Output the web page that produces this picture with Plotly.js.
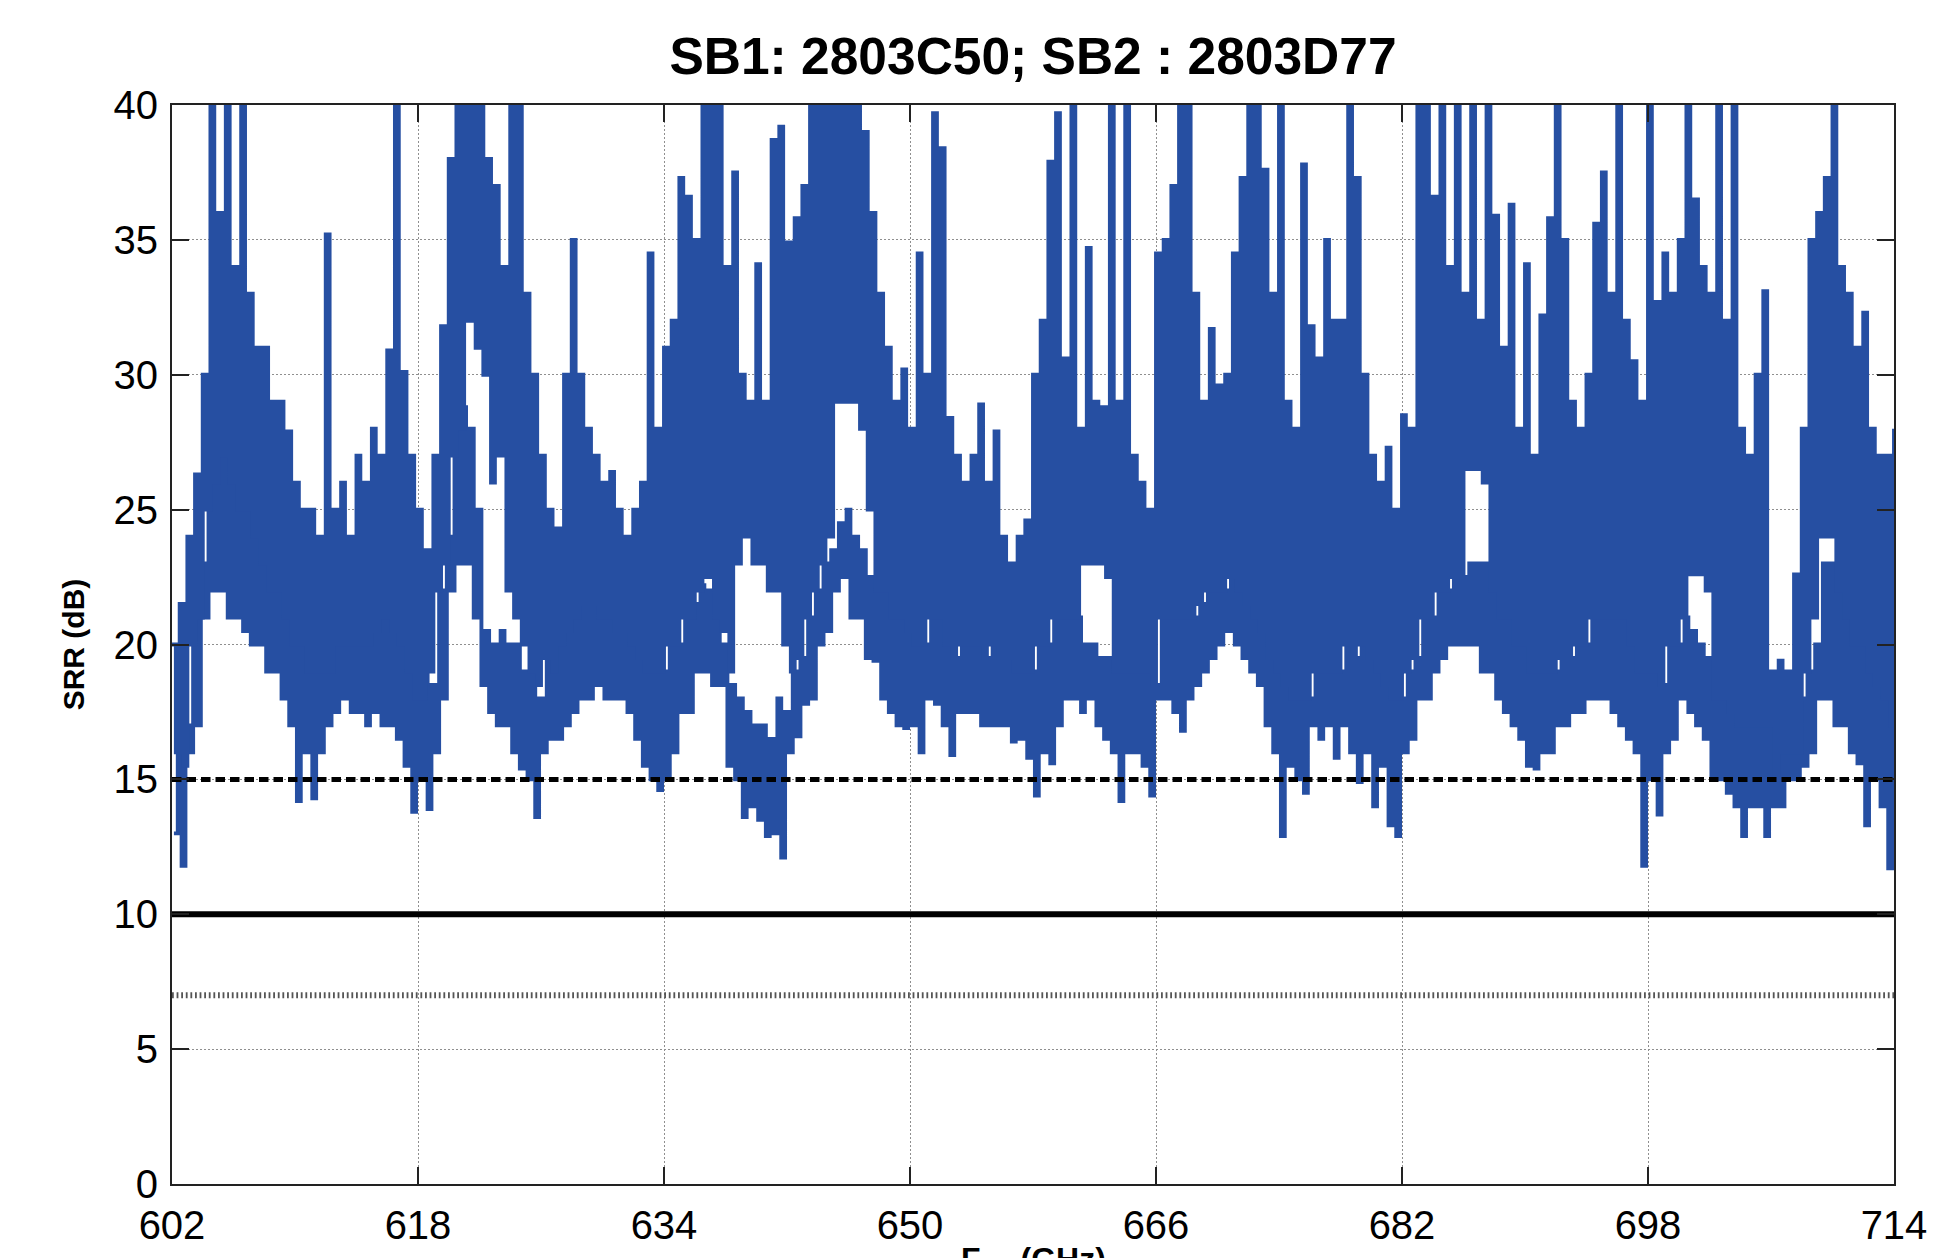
<!DOCTYPE html>
<html>
<head>
<meta charset="utf-8">
<script src="https://cdn.plot.ly/plotly-3.0.1.min.js"></script>
<style>html,body{margin:0;padding:0;background:#fff;}#chart{width:1936px;height:1258px;}</style>
</head>
<body>
<div id="chart"></div>
<script>
// Frequency grid (GHz): samples every 0.25 GHz from 602 to 714
const FREQ_START = 602;
const FREQ_STEP = 0.25;
const CURVE_B_OFFSET = 0.125;

// SRR (dB), first sweep (upper curve) – 4 samples per GHz
const srrSweep1 = [
  20,16,21.5,15.5,  24,20,26.3,21,  30,25,41,26,  36,27,41,26,  34,25,41,25,   // 602-606
  33,24,31,23,  31,22,29,22,  29,21,27.9,20,  26,20,25,19,  25,19,24,19,       // 607-611
  35.2,19,25,20,  26,20,24,20,  27,20,26,20,  28,20.5,27,21,  30.9,20.5,41,20, // 612-616
  30.1,19,27,18,  25,18,23.5,19,  27,22,31.8,23,  38,27,41,28,  41,32,41,31,   // 617-621
  41,30,38,26,  37,27,34,22,  41,21,41,20,  33,19,30,18.5,  27,19.5,25,19,     // 622-626
  24.3,20,30,20.5,  35,21,30,21.5,  28,21.5,27,21,  26,21,26.4,20.5,  25,20.5,24,20, // 627-631
  25,19.5,26,19,  34.5,19,28,19,  31,20,32,20,  37.3,21,36.6,21,  35,22,41,22.5, // 632-636
  41,21,41,20.5,  34,19,37.5,23,  30,24,29,23,  34.1,23,29,22,  38.7,22,39.2,20, // 637-641
  34.9,19,35.8,19.5,  37,21,41,22,  41,23,41,24,  41,29,41,29,  41,29,41,28,   // 642-646
  39,25,36,22,  33,22,31,21,  29,21,30.2,20.5,  28,20,34.5,20,  30,21,39.7,21, // 647-651
  38.4,20,28.4,19.5,  27,20,26,20,  27,20,28.9,19.5,  26,20,27.9,19.5,  24,19.5,23,19, // 652-656
  24,19,24.6,19,  30,20,32,20,  37.9,21,39.7,21,  30.6,21,41,21,  28,23,34.7,23, // 657-661
  29,23,28.8,22.5,  41,19,29,19,  41,19,27,19,  26,19,25,18.5,  34.5,21,35,21, // 662-666
  37,21,41,21,  41,21,33,21.5,  29,22,31.7,22,  29.6,22,30,22.5,  34.5,22,37.3,21.5, // 667-671
  41,21,41,20.5,  37.6,19.5,33,19,  41,18.5,29,18,  28,18,37.8,18,  31.8,19,30.6,19, // 672-676
  35,19,32,19,  32,20,41,19.5,  37.3,20,30,19.5,  27,19,26,18.5,  27.3,18,25,18, // 677-681
  28.5,19,28,19.5,  41,21,41,21,  36.6,22,41,22,  34,22.5,41,22.5,  33,26.5,41,26.5, // 682-686
  32,26,41,22,  35.9,21,31,21,  36.3,20,28,20,  34.1,19,27,19,  32.2,19,35.8,19, // 687-691
  41,19.5,35,19.5,  29,20,28,20,  30,21,35.6,21,  37.5,21,33,21,  41,21,32,20, // 692-696
  30.5,19,29,19,  41,19,32.7,18.5,  34.5,20,33,20,  35,21,41,22.6,  36.5,22.6,34,22, // 697-701
  33,18,41,18,  32,17.5,41,17,  28,17,27,17,  30,17,33.1,17,  19,15,19.4,16,   // 702-706
  19,16,22.6,16,  28,19,35,21,  36,24,37.3,24,  41,22,34,21,  33,20,31,20,     // 707-711
  32.3,19,28,18.5,  27,18,27,17,  28                                           // 712-714
];

// SRR (dB), second sweep (lower curve) – 4 samples per GHz
const srrSweep2 = [
  13,18,11.8,17,  16,22,17,23,  21,27,22,28,  22,28,21,27,  21,27,20.5,26,   // 602-606
  20,25,20,24,  19,24,19,23,  18,22,17,21,  14.2,21,16,20,  14.3,20,16,21,   // 607-611
  17,21,17.5,21,  18,21,17.5,22,  17.5,21,17,21,  17.5,21,17,21,  17,21,16.5,20, // 612-616
  15.5,20,13.8,19,  15,19,13.9,18.5,  16,22,18,24,  22,29,23,28.8,  23,28,21,25, // 617-621
  18.5,20.5,17.5,20,  17,20.5,17,20,  16,20,15.4,19,  15,19,13.6,18,  16,20,16.5,20, // 622-626
  16.5,21,17,21,  17.5,22,18,22,  18,22,18.5,22,  18,22,18,21,  18,21,17.5,20, // 627-631
  16.5,20,15.5,19,  15,19,14.6,19,  15,20,16,20,  17.5,21,17.5,21.5,  19,22.2,19,22, // 632-636
  18.5,21,18.5,20,  15.5,18.5,15,18,  13.6,17.5,14,17,  13.5,17,12.9,16.5,  13,18,12.1,17.5, // 637-641
  16,19,16.6,19.5,  17.8,21,18,22,  20,23,20.5,23.5,  22,24.5,22.5,25,  21,24,21,23.5, // 642-646
  19.5,22.5,19.4,22,  18,22,17.5,21,  17,21,16.9,20.5,  17,20,16,20,  18,21,17.8,21, // 647-651
  17,20,15.9,19.5,  17.5,20,17.5,20,  17.5,20,17,19.5,  17,20,17,19.5,  17,19.5,16.4,19, // 652-656
  16.5,19,15.8,19,  14.4,20,16,20,  15.6,21,17,21,  18,21,18,21,  17.5,20,18,20, // 657-661
  17,19.5,16.5,19.5,  16,19,14.2,19,  16,19,16,19,  15.5,19,14.4,18.5,  18,21,18,21, // 662-666
  17.5,21,16.8,21,  18,21,18.5,21.5,  19,22,19.5,22,  20,22,20.5,22.5,  20,22,19.5,21.5, // 667-671
  19,21,18.5,20.5,  17,19.5,16,19,  12.9,18.5,15.5,18,  15,18,14.5,18,  17,19,16.5,19, // 672-676
  17,19,15.8,19,  17,20,16,19.5,  14.9,20,16,19.5,  14,19,15.5,18.5,  13.3,18,12.9,18, // 677-681
  16,19,16.5,19.5,  18,21,18,21,  19,22,19.5,22,  20,22.5,20,22.5,  20,23,20,23, // 682-686
  19,23,19,22,  18,21,17.5,21,  17,20,16.5,20,  15.5,19,15.4,19,  16,19,16,19,   // 687-691
  17,19.5,17,19.5,  17.5,20,17.5,20,  18,21,18,21,  18,21,17.5,21,  17,21,16.5,20, // 692-696
  16,19,11.8,19,  15,19,13.7,18.5,  16,20,16.5,20,  18,21,17.5,20.5,  17,20,16.5,19.5, // 697-701
  15,18,15,18,  14.5,17.5,14,17,  12.9,17,14,17,  14,17,12.9,17,  14,17,14,17,   // 702-706
  15,18,15,18,  15.5,19,16,20,  18,23,18,23,  17,22,17,21,  16,20,15.6,20,       // 707-711
  13.3,19,15,18.5,  14,18,11.7,17,  14                                         // 712-714
];

// Reference levels (dB)
const dashedLevel = 15;
const solidLevel = 10;
const dottedLevel = 7;

const xTicks = [602, 618, 634, 650, 666, 682, 698, 714];
const yTicks = [0, 5, 10, 15, 20, 25, 30, 35, 40];
const xRange = [602, 714];
const yRange = [0, 40];

const titleText = 'SB1: 2803C50; SB2 : 2803D77';
const yTitleText = 'SRR (dB)';
const xTitleText = 'F<sub>LO</sub> (GHz)';

const freqs1 = srrSweep1.map((_, i) => FREQ_START + i * FREQ_STEP);
const freqs2 = srrSweep2.map((_, i) => FREQ_START + CURVE_B_OFFSET + i * FREQ_STEP);

const blue = '#264fa2';
const FONT = 'Liberation Sans, Arial, Helvetica, sans-serif';

const traces = [
  {x: freqs2, y: srrSweep2, type: 'scatter', mode: 'lines',
   line: {color: blue, width: 3.9, shape: 'hv'}, hoverinfo: 'skip'},
  {x: freqs1, y: srrSweep1, type: 'scatter', mode: 'lines',
   line: {color: blue, width: 3.9, shape: 'hv'}, hoverinfo: 'skip'},
  {x: xRange, y: [dottedLevel, dottedLevel], type: 'scatter', mode: 'lines',
   line: {color: '#555555', width: 6, dash: '1.8px,2.8px'}, hoverinfo: 'skip'},
  {x: xRange, y: [solidLevel, solidLevel], type: 'scatter', mode: 'lines',
   line: {color: '#000000', width: 6}, hoverinfo: 'skip'},
  {x: xRange, y: [dashedLevel, dashedLevel], type: 'scatter', mode: 'lines',
   line: {color: '#000000', width: 5, dash: '9.5px,5px'}, hoverinfo: 'skip'}
];

const axisCommon = {
  ticks: 'inside', ticklen: 17, tickwidth: 2, tickcolor: '#222',
  showline: true, linewidth: 2, linecolor: '#222', mirror: 'ticks',
  showgrid: true, gridcolor: '#8f8f8f', gridwidth: 1, griddash: '1.5px,2.5px',
  zeroline: false, tickfont: {family: FONT, size: 40, color: '#000'}
};

const layout = {
  width: 1936, height: 1258,
  margin: {l: 172, r: 42, t: 105, b: 74, pad: 0},
  paper_bgcolor: '#ffffff', plot_bgcolor: '#ffffff',
  showlegend: false,
  title: {text: '<b>' + titleText + '</b>', font: {family: FONT, size: 51.5, color: '#000'},
          xref: 'paper', x: 0.5, xanchor: 'center', yref: 'container', y: 1 - 56 / 1258, yanchor: 'middle'},
  xaxis: Object.assign({}, axisCommon, {range: xRange, tickvals: xTicks, ticktext: xTicks.map(String),
          ticklabelstandoff: 5}),
  yaxis: Object.assign({}, axisCommon, {range: yRange, tickvals: yTicks, ticktext: yTicks.map(String),
          ticklabelstandoff: 4,
          title: {text: '<b>' + yTitleText + '</b>', font: {family: FONT, size: 30, color: '#000'}, standoff: 20}}),
  annotations: [
    {text: '<b>' + xTitleText + '</b>', xref: 'paper', yref: 'paper', x: 0.5, y: -(1239 - 1184) / 1079,
     xanchor: 'center', yanchor: 'top', showarrow: false,
     font: {family: FONT, size: 32, color: '#000'}}
  ]
};

Plotly.newPlot('chart', traces, layout, {staticPlot: true, displayModeBar: false});
</script>
</body>
</html>
